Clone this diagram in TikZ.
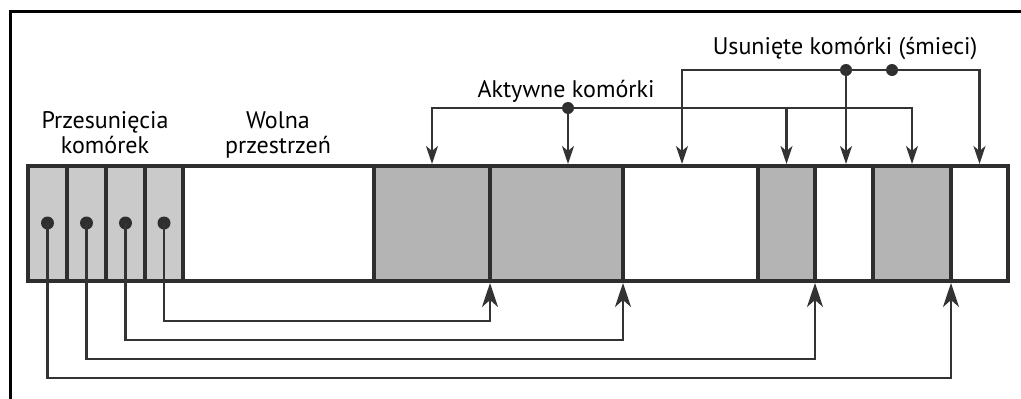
\documentclass[tikz,border=0pt]{standalone}
\usepackage{fontspec}
\setmainfont{PT Sans}
\usetikzlibrary{arrows.meta,calc}
\definecolor{edge}{HTML}{2E2E2E}
\definecolor{conncol}{HTML}{333333}
\definecolor{light}{HTML}{CACACA}
\definecolor{active}{HTML}{B4B4B4}
\begin{document}
\begin{tikzpicture}[x=1pt,y=-1pt,
  cell/.style={draw=edge, line width=4.5pt, minimum height=115pt, inner sep=0pt, outer sep=0pt, anchor=north west},
  dot/.style={circle, fill=edge, inner sep=0pt, minimum size=13pt},
  sdot/.style={circle, fill=edge, inner sep=0pt, minimum size=12pt},
  conn/.style={draw=conncol, line width=2.2pt},
  uptip/.style={-{Stealth[length=24pt,width=16pt,inset=7pt]}, shorten >=2pt},
  downtip/.style={-{Stealth[length=18pt,width=12pt,inset=5pt]}, shorten >=2pt},
  lbl/.style={font=\fontsize{24}{25}\selectfont, text=black, inner sep=0pt}]
\useasboundingbox (0,0) rectangle (1021,399);
\draw[line width=3pt] (10.5,399) -- (10.5,11.5) -- (1021,11.5);
% cells
\node[cell, fill=light,  minimum width=39pt]  (c1)  at (28,166)  {};
\node[cell, fill=light,  minimum width=39pt]  (c2)  at (67,166)  {};
\node[cell, fill=light,  minimum width=39pt]  (c3)  at (106,166) {};
\node[cell, fill=light,  minimum width=38pt]  (c4)  at (145,166) {};
\node[cell, fill=white,  minimum width=191pt] (c5)  at (183,166) {};
\node[cell, fill=active, minimum width=116pt] (c6)  at (374,166) {};
\node[cell, fill=active, minimum width=133pt] (c7)  at (490,166) {};
\node[cell, fill=white,  minimum width=135pt] (c8)  at (623,166) {};
\node[cell, fill=active, minimum width=57pt]  (c9)  at (758,166) {};
\node[cell, fill=white,  minimum width=58pt]  (c10) at (815,166) {};
\node[cell, fill=active, minimum width=78pt]  (c11) at (873,166) {};
\node[cell, fill=white,  minimum width=57pt]  (c12) at (951,166) {};
% labels
\node[lbl, anchor=base, align=center] (loff) at (105,153) {Przesunięcia\\komórek};
\node[lbl, anchor=base, align=center] (lfree) at (278,153) {Wolna\\przestrzeń};
\node[lbl, anchor=base] (lact) at (566,97) {Aktywne komórki};
\node[lbl, anchor=base] (ldel) at (845,54) {Usunięte komórki (śmieci)};
% offset pointers
\node[dot] (d1) at (c1.center |- 0,223) {};
\node[dot] (d2) at (c2.center |- 0,223) {};
\node[dot] (d3) at (c3.center |- 0,223) {};
\node[dot] (d4) at (c4.center |- 0,223) {};
\draw[conn,uptip] (d4.center) |- ($(c6.south east)+(0,40)$) -- (c6.south east);
\draw[conn,uptip] (d3.center) |- ($(c7.south east)+(0,59)$) -- (c7.south east);
\draw[conn,uptip] (d2.center) |- ($(c9.south east)+(0,78)$) -- (c9.south east);
\draw[conn,uptip] (d1.center) |- ($(c11.south east)+(0,97)$) -- (c11.south east);
% active cells
\node[sdot] (ad) at (568,108) {};
\draw[conn,downtip] (ad.center) -| (c6.north);
\draw[conn,downtip] (ad.center) -- (ad |- c7.north);
\draw[conn,downtip] (ad.center) -| (c11.north);
\draw[conn,downtip] (ad -| c9.north) -- (c9.north);
% deleted cells
\node[sdot] (ud1) at (846,70) {};
\node[sdot] (ud2) at (892,70) {};
\coordinate (u8) at (682,166);
\draw[conn,downtip] (ud1.center) -| (u8);
\draw[conn,downtip] (ud1.center) -- (ud1 |- c10.north);
\draw[conn,downtip] (ud1.center) -- (ud2.center) -| (c12.north);
\end{tikzpicture}
\end{document}
